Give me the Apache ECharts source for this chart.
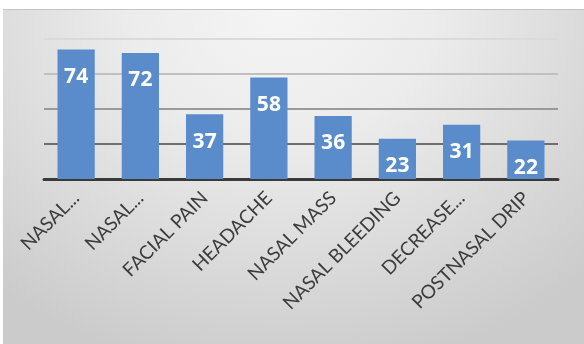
<!DOCTYPE html>
<html>
<head>
<meta charset="utf-8">
<script src="https://cdn.jsdelivr.net/npm/echarts@6/dist/echarts.min.js"></script>
<style>
  html, body { margin: 0; padding: 0; background: #ffffff; }
  #panel {
    position: absolute; left: 3px; top: 9px; width: 581px; height: 335px;
    background: radial-gradient(ellipse 75% 110% at 48% 0%, #f5f5f5 0%, #ececec 35%, #dadada 70%, #cbcbcb 100%);
    border-top: 1px solid #c4c4c4;
    box-sizing: border-box;
  }
  #chart { position: absolute; left: 0; top: 0; width: 584px; height: 344px; }
</style>
</head>
<body>
<div id="panel"></div>
<div id="chart"></div>
<script>
// Symptom categories and patient counts
const categories = ['NASAL...', 'NASAL...', 'FACIAL PAIN', 'HEADACHE', 'NASAL MASS', 'NASAL BLEEDING', 'DECREASE...', 'POSTNASAL DRIP'];
const counts = [74, 72, 37, 58, 36, 23, 31, 22];

const chart = echarts.init(document.getElementById('chart'), null, { renderer: 'canvas' });

chart.setOption({
  animation: false,
  backgroundColor: 'transparent',
  grid: { left: 44, right: 26, top: 39, bottom: 165, containLabel: false },
  xAxis: {
    type: 'category',
    data: categories,
    axisLine: { show: true, lineStyle: { color: '#3a3a3a', width: 3 } },
    axisTick: { show: false },
    axisLabel: {
      rotate: 45,
      interval: 0,
      margin: 16,
      color: '#3c3c3c',
      fontFamily: 'Lato',
      fontSize: 19
    }
  },
  yAxis: {
    type: 'value',
    min: 0,
    max: 80,
    interval: 20,
    axisLine: { show: false },
    axisTick: { show: false },
    axisLabel: { show: false },
    splitLine: {
      show: true,
      lineStyle: { color: ['#3a3a3a', '#6e6e6e', '#9a9a9a', '#c0c0c0', '#dadada'], width: 2 }
    }
  },
  series: [{
    type: 'bar',
    data: counts,
    barWidth: '58%',
    itemStyle: { color: '#5a8ccb' },
    label: {
      show: true,
      position: 'insideTop',
      distance: 17,
      color: '#ffffff',
      fontFamily: 'Open Sans',
      fontWeight: 'bold',
      fontSize: 21
    }
  }]
});
</script>
</body>
</html>
